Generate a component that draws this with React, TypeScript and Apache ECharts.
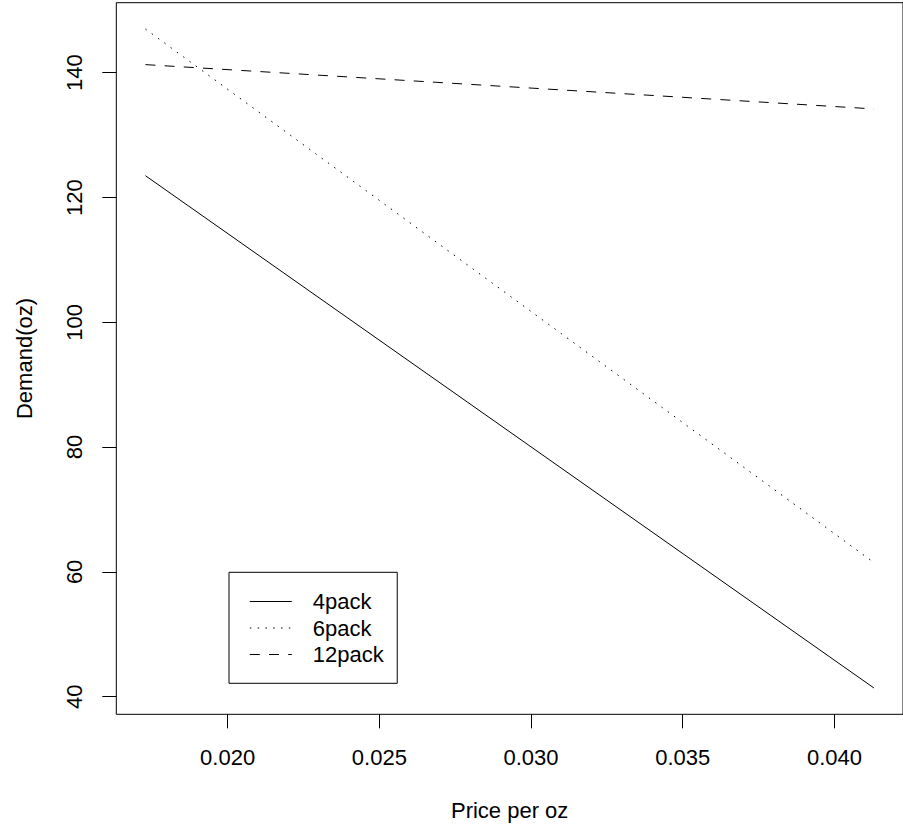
import React, { useEffect, useRef } from "react";
import * as echarts from "echarts";

// ---- data ----
const prices = [0.01729, 0.0413];
const pack4 = [123.5, 41.4];
const pack6 = [147.0, 61.5];
const pack12 = [141.3, 134.2];
const seriesNames = ["4pack", "6pack", "12pack"];
const xTicks = [0.02, 0.025, 0.03, 0.035, 0.04];
const yTicks = [40, 60, 80, 100, 120, 140];
const xTitle = "Price per oz";
const yTitle = "Demand(oz)";

const FONT = "'Liberation Sans', Arial, Helvetica, sans-serif";

// R-style 4% axis extension
function extend(vals: number[]) {
  const lo = Math.min(...vals);
  const hi = Math.max(...vals);
  const r = hi - lo;
  return [lo - 0.04 * r, hi + 0.04 * r];
}

export default function App() {
  const ref = useRef<HTMLDivElement>(null);

  useEffect(() => {
    if (!ref.current) return;
    const chart = echarts.init(ref.current, null, { renderer: "svg" });
    const [xMin, xMax] = extend(prices);
    const [yMin, yMax] = extend([...pack4, ...pack6, ...pack12]);

    const mk = (name: string, ys: number[], type: any) => ({
      name,
      type: "line",
      data: prices.map((p, i) => [p, ys[i]]),
      showSymbol: false,
      symbol: "none",
      lineStyle: { color: "#000", width: 1, type },
      itemStyle: { color: "#000" },
      emphasis: { disabled: true },
    });

    chart.setOption({
      animation: false,
      backgroundColor: "#fff",
      textStyle: { fontFamily: FONT },
      grid: {
        left: 116.3,
        top: 2.7,
        width: 796.6,
        height: 711.6,
        show: true,
        borderColor: "#000",
        borderWidth: 1,
        backgroundColor: "transparent",
      },
      xAxis: {
        type: "value",
        min: xMin,
        max: xMax,
        name: xTitle,
        nameLocation: "middle",
        nameGap: 96,
        nameTextStyle: {
          fontSize: 22,
          color: "#000",
          fontFamily: FONT,
          align: "center",
          verticalAlign: "middle",
        },
        axisLine: { show: false },
        splitLine: { show: false },
        axisTick: {
          show: true,
          inside: false,
          length: 14,
          customValues: xTicks,
          lineStyle: { color: "#000", width: 1 },
        },
        axisLabel: {
          customValues: xTicks,
          formatter: (v: number) => v.toFixed(3),
          fontSize: 22,
          color: "#000",
          fontFamily: FONT,
          margin: 43,
          verticalAlign: "middle",
          align: "center",
        },
      },
      yAxis: {
        type: "value",
        min: yMin,
        max: yMax,
        name: yTitle,
        nameLocation: "middle",
        nameGap: 92,
        nameRotate: 90,
        nameTextStyle: {
          fontSize: 22,
          color: "#000",
          fontFamily: FONT,
          align: "center",
          verticalAlign: "middle",
        },
        axisLine: { show: false },
        splitLine: { show: false },
        axisTick: {
          show: true,
          inside: false,
          length: 14,
          customValues: yTicks,
          lineStyle: { color: "#000", width: 1 },
        },
        axisLabel: {
          customValues: yTicks,
          formatter: (v: number) => String(v),
          rotate: 90,
          fontSize: 22,
          color: "#000",
          fontFamily: FONT,
          margin: 42,
          align: "center",
          verticalAlign: "middle",
        },
      },
      legend: {
        show: true,
        orient: "vertical",
        left: 229,
        top: 572.3,
        data: seriesNames,
        selectedMode: false,
        backgroundColor: "#fff",
        borderColor: "#000",
        borderWidth: 1,
        borderRadius: 0,
        padding: [18.2, 13.5, 17.8, 20.3],
        itemWidth: 42,
        itemHeight: 14,
        itemGap: 4.5,
        lineStyle: { width: 1 },
        itemStyle: { opacity: 0, borderWidth: 0 },
        textStyle: {
          fontSize: 22,
          color: "#000",
          fontFamily: FONT,
          padding: [0, 0, 0, 16],
        },
      },
      series: [
        mk(seriesNames[0], pack4, "solid"),
        mk(seriesNames[1], pack6, [1.5, 6.3]),
        mk(seriesNames[2], pack12, [10, 9.2]),
      ],
    });

    return () => chart.dispose();
  }, []);

  return (
    <div
      ref={ref}
      style={{ position: "absolute", left: 0, top: 0, width: 903, height: 833 }}
    />
  );
}
